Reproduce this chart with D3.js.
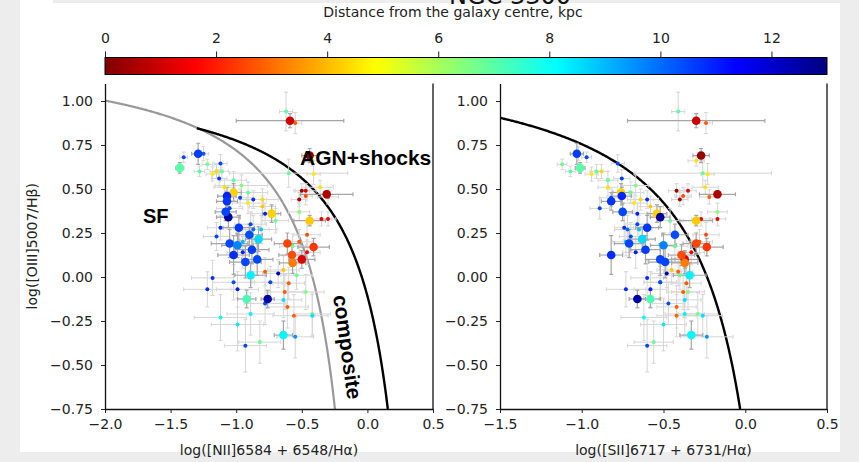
<!DOCTYPE html>
<html><head><meta charset="utf-8">
<script src="https://cdn.jsdelivr.net/npm/d3@7"></script>
<style>body{margin:0;background:#ededed;} svg{display:block;}</style>
</head><body><svg id="c" width="859" height="462"></svg>
<script>
// ---------- DATA ----------
const titleText = "NGC 3300";
const colorbarLabel = "Distance from the galaxy centre, kpc";
const colorbarTicks = [0, 2, 4, 6, 8, 10, 12];
const colorbarDomain = [0, 13];
const yTicks = [-0.75, -0.5, -0.25, 0, 0.25, 0.5, 0.75, 1.0];
const niiTicks = [-2.0, -1.5, -1.0, -0.5, 0.0, 0.5];
const siiTicks = [-1.5, -1.0, -0.5, 0.0, 0.5];
const yLabel = "log([OIII]5007/Hβ)";
const niiLabel = "log([NII]6584 + 6548/Hα)";
const siiLabel = "log([SII]6717 + 6731/Hα)";
// demarcation lines y = a/(x-b)+c
const kewleyNII = [0.61, 0.47, 1.19];
const kauffmannNII = [0.61, 0.05, 1.30];
const kewleySII = [0.72, 0.32, 1.30];

// large markers
const bigO3 = [0.888,0.69,0.47,0.70,0.62,0.48,0.46,0.43,0.36,0.34,0.32,0.37,0.28,0.24,0.19,0.18,0.215,0.155,0.10,0.085,0.125,0.17,0.10,0.125,0.08,0.19,0.01,-0.125,-0.125,-0.33];
const bigNII = [-0.59,-0.44,-0.31,-1.29,-1.43,-1.02,-1.07,-1.07,-0.73,-1.06,-0.44,-1.08,-0.98,-0.90,-1.05,-0.99,-0.83,-0.88,-0.84,-0.93,-1.02,-0.41,-0.50,-0.575,-0.57,-0.61,-0.89,-0.92,-0.76,-0.64];
const bigSII = [-0.30,-0.27,-0.17,-1.03,-1.01,-0.76,-0.755,-0.82,-0.54,-0.52,-0.30,-0.75,-0.60,-0.43,-0.71,-0.50,-0.63,-0.61,-0.52,-0.49,-0.82,-0.235,-0.37,-0.39,-0.37,-0.30,-0.34,-0.58,-0.66,-0.33];
const bigDist = [1.0,0.3,0.6,10.6,7.0,4.3,10.9,10.7,4.3,12.6,4.2,10.5,10.7,10.4,10.5,9.7,8.6,10.6,10.5,10.5,10.8,2.3,1.2,2.6,3.2,2.5,8.3,7.2,12.5,8.2];
const bigO3Err = [0.04,0.04,0.02,0.06,0.03,0.05,0.05,0.05,0.05,0.06,0.03,0.05,0.07,0.06,0.08,0.07,0.07,0.08,0.09,0.09,0.11,0.05,0.05,0.06,0.06,0.06,0.07,0.05,0.05,0.08];
const bigNIIErr = [0.41,0.06,0.20,0.05,0.03,0.06,0.07,0.08,0.07,0.09,0.12,0.08,0.12,0.10,0.14,0.12,0.10,0.13,0.12,0.12,0.12,0.12,0.10,0.10,0.10,0.10,0.12,0.07,0.05,0.07];
const bigSIIErr = [0.42,0.05,0.11,0.04,0.03,0.05,0.06,0.06,0.06,0.06,0.10,0.06,0.07,0.08,0.09,0.08,0.08,0.09,0.09,0.10,0.07,0.10,0.08,0.08,0.08,0.08,0.10,0.06,0.05,0.07];

// small markers
const smallO3 = [0.875,0.94,0.66,0.68,0.70,0.64,0.60,0.585,0.645,0.60,0.56,0.55,0.60,0.51,0.52,0.48,0.45,0.42,0.44,0.44,0.49,0.49,0.44,0.46,0.51,0.455,0.585,0.59,0.37,0.33,0.33,0.39,0.30,0.28,0.32,0.40,0.36,0.23,0.20,0.14,0.175,0.24,0.20,0.14,0.04,0.02,0.03,0.01,-0.035,-0.03,-0.005,-0.07,-0.07,-0.03,-0.085,-0.085,-0.13,-0.15,-0.17,-0.22,-0.21,-0.21,-0.23,-0.27,-0.39,-0.37,-0.34,-0.22,0.27,0.27];
const smallNII = [-0.55,-0.62,-0.42,-1.40,-1.25,-1.22,-1.28,-1.18,-1.12,-1.11,-1.13,-1.02,-1.15,-1.09,-0.96,-0.91,-0.97,-0.91,-0.87,-0.80,-0.50,-0.47,-0.52,-0.47,-0.36,-0.30,-0.41,-0.60,-0.52,-0.35,-0.30,-1.05,-0.89,-1.12,-0.70,-0.80,-0.78,-1.15,-0.95,-0.95,-0.57,-0.46,-0.52,-0.46,-0.64,-0.68,-0.78,-0.54,-0.60,-0.74,-1.18,-1.22,-0.99,-1.02,-0.63,-0.47,-0.64,-0.78,-0.61,-0.56,-0.42,-0.89,-1.12,-0.99,-0.93,-0.82,-0.55,-0.42,-0.87,-0.81];
const smallSII = [-0.24,-0.41,-0.30,-0.97,-1.02,-1.12,-1.07,-0.94,-0.78,-0.91,-0.755,-0.84,-0.88,-0.84,-0.67,-0.70,-0.82,-0.68,-0.60,-0.64,-0.42,-0.35,-0.40,-0.38,-0.245,-0.22,-0.23,-0.26,-0.17,-0.27,-0.17,-0.89,-0.66,-0.74,-0.46,-0.58,-0.66,-0.70,-0.73,-0.67,-0.43,-0.24,-0.28,-0.33,-0.45,-0.48,-0.41,-0.40,-0.36,-0.52,-0.60,-0.73,-0.58,-0.52,-0.38,-0.35,-0.37,-0.47,-0.42,-0.42,-0.29,-0.37,-0.62,-0.50,-0.60,-0.56,-0.235,-0.26,-0.72,-0.65];
const smallDist = [2.8,7.0,4.5,10.5,10.2,6.6,7.0,4.6,10.5,6.8,10.6,6.9,4.4,4.5,6.5,6.8,10.5,4.6,10.8,4.4,0.4,1.2,0.5,2.6,4.5,2.8,4.6,6.8,6.4,1.3,1.3,10.5,10.5,10.9,6.8,4.2,11.0,10.5,9.0,11.0,6.8,2.6,2.8,1.5,4.2,12.5,2.8,6.8,2.8,10.5,10.8,10.8,11.0,10.4,2.8,6.5,8.5,10.4,2.8,2.9,6.7,8.3,8.2,8.4,10.5,6.8,9.5,8.5,10.0,8.8];
const smallO3Err = [0.06,0.11,0.03,0.03,0.04,0.03,0.03,0.04,0.05,0.04,0.05,0.05,0.04,0.05,0.06,0.06,0.05,0.06,0.05,0.06,0.04,0.04,0.04,0.05,0.04,0.04,0.06,0.08,0.05,0.04,0.04,0.06,0.07,0.07,0.07,0.06,0.06,0.08,0.08,0.09,0.07,0.07,0.07,0.07,0.08,0.08,0.08,0.08,0.09,0.09,0.10,0.10,0.10,0.10,0.10,0.10,0.10,0.12,0.12,0.12,0.12,0.12,0.13,0.15,0.15,0.12,0.12,0.12,0.08,0.08];
const smallNIIErr = [0.05,0.05,0.05,0.03,0.04,0.04,0.04,0.05,0.05,0.05,0.06,0.10,0.05,0.08,0.20,0.15,0.10,0.12,0.10,0.12,0.06,0.08,0.06,0.05,0.10,0.08,0.05,0.45,0.08,0.08,0.06,0.10,0.12,0.10,0.10,0.10,0.10,0.10,0.12,0.12,0.10,0.10,0.10,0.10,0.12,0.12,0.12,0.12,0.12,0.14,0.16,0.18,0.16,0.16,0.14,0.14,0.14,0.16,0.16,0.16,0.14,0.18,0.20,0.20,0.16,0.16,0.14,0.12,0.12,0.12];
const smallSIIErr = [0.04,0.04,0.05,0.03,0.03,0.03,0.03,0.04,0.04,0.04,0.05,0.06,0.04,0.06,0.08,0.08,0.07,0.08,0.07,0.08,0.05,0.05,0.05,0.05,0.08,0.06,0.04,0.42,0.06,0.06,0.05,0.06,0.07,0.06,0.08,0.08,0.07,0.07,0.08,0.08,0.08,0.08,0.08,0.08,0.09,0.09,0.09,0.09,0.09,0.10,0.10,0.12,0.10,0.10,0.10,0.10,0.10,0.10,0.12,0.12,0.12,0.12,0.14,0.14,0.12,0.12,0.16,0.12,0.08,0.08];

// ---------- DRAW ----------
const svg = d3.select("#c");
const W = 859, H = 462;
svg.append("rect").attr("width", W).attr("height", H).attr("fill", "#ededed");
svg.append("rect").attr("x", 20).attr("y", 3).attr("width", 820).attr("height", 449).attr("fill", "#fff");
svg.append("rect").attr("x", 20).attr("y", 0).attr("width", 33).attr("height", 4).attr("fill", "#fff");

const tickFont = "'DejaVu Sans', sans-serif";
svg.append("text").attr("x", 510).attr("y", 3.5).attr("text-anchor", "middle")
  .attr("font-family", tickFont).attr("font-size", 24).attr("fill", "#111").text(titleText);

function jet(t) {
  const c = v => Math.max(0, Math.min(1, v));
  const r = c(1.5 - Math.abs(4 * t - 3)), g = c(1.5 - Math.abs(4 * t - 2)), b = c(1.5 - Math.abs(4 * t - 1));
  return d3.rgb(r * 255, g * 255, b * 255).formatHex();
}
const color = d3.scaleSequential(t => jet(1 - t)).domain(colorbarDomain);

// colorbar
const cbX = d3.scaleLinear().domain(colorbarDomain).range([105, 827]);
const defs = svg.append("defs");
const grad = defs.append("linearGradient").attr("id", "jetg").attr("x1", "0%").attr("x2", "100%");
d3.range(0, 1.0001, 1 / 64).forEach(t => grad.append("stop").attr("offset", (t * 100) + "%").attr("stop-color", color(colorbarDomain[0] + t * (colorbarDomain[1] - colorbarDomain[0]))));
svg.append("rect").attr("x", 105).attr("y", 57.5).attr("width", 722).attr("height", 17).attr("fill", "url(#jetg)").attr("stroke", "#000").attr("stroke-width", 1);
const cbAxis = svg.append("g").attr("transform", "translate(0,57.5)")
  .call(d3.axisTop(cbX).tickValues(colorbarTicks).tickFormat(d3.format("d")).tickSize(6).tickPadding(9).tickSizeOuter(0));
cbAxis.select(".domain").remove();
svg.append("text").attr("x", 453).attr("y", 16.5).attr("text-anchor", "middle").attr("font-family", tickFont)
  .attr("font-size", 14).attr("fill", "#222").text(colorbarLabel);

// scales
const y = d3.scaleLinear().domain([-0.75, 1.1]).range([409, 409 - 1.85 * 176]);
const xN = d3.scaleLinear().domain([-2, 0.5]).range([105, 433]);
const xS = d3.scaleLinear().domain([-1.5, 0.5]).range([500, 827]);

function styleAxis(g) {
  g.selectAll("text").attr("font-family", tickFont).attr("font-size", 14).attr("fill", "#222");
  g.selectAll("line").attr("stroke", "#222");
  g.selectAll(".domain").attr("stroke", "#111").attr("stroke-width", 1.3);
}
styleAxis(cbAxis);

function panel(xs, xTicks, xLbl, showYLabel, xVals, xErr, bigX, bigXErr, curves) {
  const clipId = "clip" + Math.round(xs.range()[0]);
  defs.append("clipPath").attr("id", clipId).append("rect")
    .attr("x", xs.range()[0]).attr("y", y.range()[1]).attr("width", xs.range()[1] - xs.range()[0]).attr("height", y.range()[0] - y.range()[1]);
  const plot = svg.append("g").attr("clip-path", `url(#${clipId})`);

  curves.forEach(cv => {
    const [a, b, c] = cv.coef;
    const xs0 = d3.range(cv.from, cv.to, (cv.to - cv.from) / 300).concat([cv.to]);
    const line = d3.line().x(d => xs(d)).y(d => y(a / (d - b) + c));
    plot.append("path").attr("d", line(xs0)).attr("fill", "none").attr("stroke", cv.color).attr("stroke-width", cv.width);
  });

  function errbars(xv, xe, yv, ye, col, w) {
    const g = plot.append("g").attr("stroke", col).attr("stroke-width", w).attr("fill", "none");
    xv.forEach((xx, i) => {
      const cx = xs(xx), cy = y(yv[i]);
      const x0 = xs(xx - xe[i]), x1 = xs(xx + xe[i]);
      const y0 = y(yv[i] - ye[i]), y1 = y(yv[i] + ye[i]);
      g.append("line").attr("x1", x0).attr("x2", x1).attr("y1", cy).attr("y2", cy);
      g.append("line").attr("x1", cx).attr("x2", cx).attr("y1", y0).attr("y2", y1);
      g.append("line").attr("x1", x0).attr("x2", x0).attr("y1", cy - 2).attr("y2", cy + 2);
      g.append("line").attr("x1", x1).attr("x2", x1).attr("y1", cy - 2).attr("y2", cy + 2);
      g.append("line").attr("x1", cx - 2).attr("x2", cx + 2).attr("y1", y0).attr("y2", y0);
      g.append("line").attr("x1", cx - 2).attr("x2", cx + 2).attr("y1", y1).attr("y2", y1);
    });
  }
  errbars(xVals, xErr, smallO3, smallO3Err, "#d6d6d6", 1);
  errbars(bigX, bigXErr, bigO3, bigO3Err, "#a6a6a6", 1.2);

  plot.append("g").selectAll("circle").data(xVals).join("circle")
    .attr("cx", d => xs(d)).attr("cy", (d, i) => y(smallO3[i])).attr("r", 2)
    .attr("fill", (d, i) => color(smallDist[i]));
  plot.append("g").selectAll("circle").data(bigX).join("circle")
    .attr("cx", d => xs(d)).attr("cy", (d, i) => y(bigO3[i])).attr("r", 4.3)
    .attr("fill", (d, i) => color(bigDist[i]));

  const gx = svg.append("g").attr("transform", "translate(0,409)")
    .call(d3.axisBottom(xs).tickValues(xTicks).tickFormat(d3.format(".1f")).tickSize(4).tickPadding(6).tickSizeOuter(0));
  styleAxis(gx);
  const gy = svg.append("g").attr("transform", `translate(${xs.range()[0]},0)`)
    .call(d3.axisLeft(y).tickValues(yTicks).tickFormat(d3.format(".2f")).tickSize(4).tickPadding(8).tickSizeOuter(0));
  styleAxis(gy);
  svg.append("line").attr("x1", xs.range()[1]).attr("x2", xs.range()[1]).attr("y1", y.range()[1]).attr("y2", 409)
    .attr("stroke", "#111").attr("stroke-width", 1.3);

  svg.append("text").attr("x", (xs.range()[0] + xs.range()[1]) / 2).attr("y", 455).attr("text-anchor", "middle")
    .attr("font-family", tickFont).attr("font-size", 14).attr("fill", "#222").text(xLbl);
  if (showYLabel) {
    svg.append("text").attr("transform", `translate(37,${(y.range()[0] + y.range()[1]) / 2}) rotate(-90)`)
      .attr("text-anchor", "middle").attr("font-family", tickFont).attr("font-size", 14).attr("fill", "#222").text(yLabel);
  }
}

const xKewN_end = kewleyNII[1] + kewleyNII[0] / (-0.75 - kewleyNII[2]);
const xKauN_end = kauffmannNII[1] + kauffmannNII[0] / (-0.75 - kauffmannNII[2]);
const xKewS_end = kewleySII[1] + kewleySII[0] / (-0.75 - kewleySII[2]);

panel(xN, niiTicks, niiLabel, true, smallNII, smallNIIErr, bigNII, bigNIIErr, [
  { coef: kauffmannNII, from: -2, to: xKauN_end, color: "#999", width: 2.2 },
  { coef: kewleyNII, from: -1.30, to: xKewN_end, color: "#000", width: 2.4 }
]);
panel(xS, siiTicks, siiLabel, false, smallSII, smallSIIErr, bigSII, bigSIIErr, [
  { coef: kewleySII, from: -1.5, to: xKewS_end, color: "#000", width: 2.4 }
]);

// annotations
const annFont = "'Liberation Sans', Arial, sans-serif";
svg.append("text").attr("x", 143).attr("y", 223).attr("font-family", annFont).attr("font-weight", "bold")
  .attr("font-size", 20).attr("fill", "#000").text("SF");
svg.append("text").attr("x", 300).attr("y", 165).attr("font-family", annFont).attr("font-weight", "bold")
  .attr("font-size", 21).attr("fill", "#000").text("AGN+shocks");
svg.append("text").attr("transform", "translate(333,296) rotate(82)").attr("font-family", annFont).attr("font-weight", "bold")
  .attr("font-size", 21).attr("fill", "#000").text("composite");
</script></body></html>
